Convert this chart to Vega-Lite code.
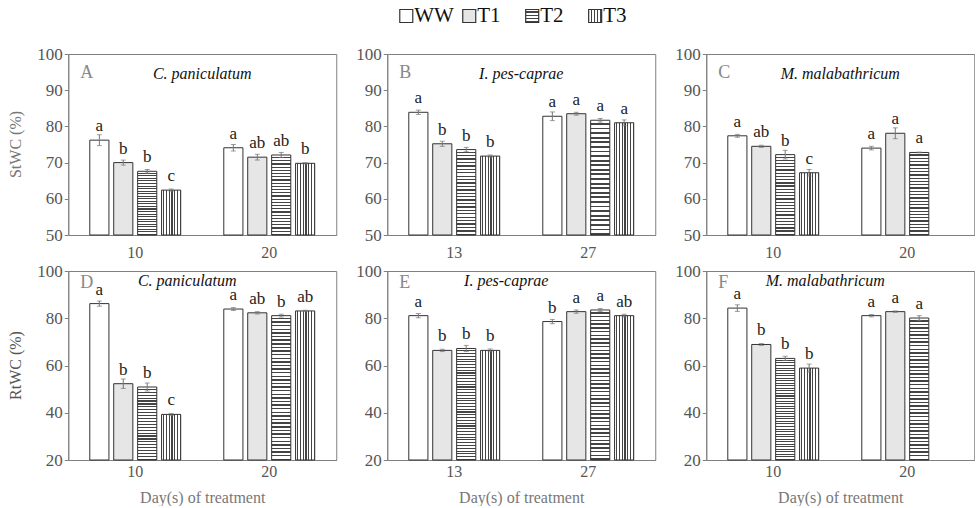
{
 "$schema": "https://vega.github.io/schema/vega-lite/v6.json",
 "padding": {"left": 8, "top": 5, "right": 0, "bottom": 0},
 "background": "white",
 "datasets": {
  "legend": [{"trt":"WW"},{"trt":"T1"},{"trt":"T2"},{"trt":"T3"}],
  "st": [
   {"panel":"A","species":"C. paniculatum","measure":"StWC (%)","day":"10","trt":"WW","value":76.2,"err":1.5,"letter":"a"},
   {"panel":"A","species":"C. paniculatum","measure":"StWC (%)","day":"10","trt":"T1","value":70.0,"err":0.7,"letter":"b"},
   {"panel":"A","species":"C. paniculatum","measure":"StWC (%)","day":"10","trt":"T2","value":67.6,"err":0.5,"letter":"b"},
   {"panel":"A","species":"C. paniculatum","measure":"StWC (%)","day":"10","trt":"T3","value":62.4,"err":0.3,"letter":"c"},
   {"panel":"A","species":"C. paniculatum","measure":"StWC (%)","day":"20","trt":"WW","value":74.1,"err":0.9,"letter":"a"},
   {"panel":"A","species":"C. paniculatum","measure":"StWC (%)","day":"20","trt":"T1","value":71.5,"err":0.8,"letter":"ab"},
   {"panel":"A","species":"C. paniculatum","measure":"StWC (%)","day":"20","trt":"T2","value":72.1,"err":0.7,"letter":"ab"},
   {"panel":"A","species":"C. paniculatum","measure":"StWC (%)","day":"20","trt":"T3","value":69.8,"err":0.2,"letter":"b"},
   {"panel":"B","species":"I. pes-caprae","measure":"StWC (%)","day":"13","trt":"WW","value":83.9,"err":0.6,"letter":"a"},
   {"panel":"B","species":"I. pes-caprae","measure":"StWC (%)","day":"13","trt":"T1","value":75.2,"err":0.7,"letter":"b"},
   {"panel":"B","species":"I. pes-caprae","measure":"StWC (%)","day":"13","trt":"T2","value":73.6,"err":0.6,"letter":"b"},
   {"panel":"B","species":"I. pes-caprae","measure":"StWC (%)","day":"13","trt":"T3","value":71.8,"err":0.3,"letter":"b"},
   {"panel":"B","species":"I. pes-caprae","measure":"StWC (%)","day":"27","trt":"WW","value":82.8,"err":1.2,"letter":"a"},
   {"panel":"B","species":"I. pes-caprae","measure":"StWC (%)","day":"27","trt":"T1","value":83.5,"err":0.4,"letter":"a"},
   {"panel":"B","species":"I. pes-caprae","measure":"StWC (%)","day":"27","trt":"T2","value":81.7,"err":0.5,"letter":"a"},
   {"panel":"B","species":"I. pes-caprae","measure":"StWC (%)","day":"27","trt":"T3","value":81.0,"err":0.8,"letter":"a"},
   {"panel":"C","species":"M. malabathricum","measure":"StWC (%)","day":"10","trt":"WW","value":77.4,"err":0.4,"letter":"a"},
   {"panel":"C","species":"M. malabathricum","measure":"StWC (%)","day":"10","trt":"T1","value":74.5,"err":0.3,"letter":"ab"},
   {"panel":"C","species":"M. malabathricum","measure":"StWC (%)","day":"10","trt":"T2","value":72.2,"err":1.2,"letter":"b"},
   {"panel":"C","species":"M. malabathricum","measure":"StWC (%)","day":"10","trt":"T3","value":67.2,"err":0.9,"letter":"c"},
   {"panel":"C","species":"M. malabathricum","measure":"StWC (%)","day":"20","trt":"WW","value":74.0,"err":0.5,"letter":"a"},
   {"panel":"C","species":"M. malabathricum","measure":"StWC (%)","day":"20","trt":"T1","value":78.1,"err":1.5,"letter":"a"},
   {"panel":"C","species":"M. malabathricum","measure":"StWC (%)","day":"20","trt":"T2","value":72.8,"err":0.1,"letter":"a"}
  ],
  "rt": [
   {"panel":"D","species":"C. paniculatum","measure":"RtWC (%)","day":"10","trt":"WW","value":86.2,"err":1.1,"letter":"a"},
   {"panel":"D","species":"C. paniculatum","measure":"RtWC (%)","day":"10","trt":"T1","value":52.3,"err":2.0,"letter":"b"},
   {"panel":"D","species":"C. paniculatum","measure":"RtWC (%)","day":"10","trt":"T2","value":50.9,"err":1.7,"letter":"b"},
   {"panel":"D","species":"C. paniculatum","measure":"RtWC (%)","day":"10","trt":"T3","value":39.3,"err":0.4,"letter":"c"},
   {"panel":"D","species":"C. paniculatum","measure":"RtWC (%)","day":"20","trt":"WW","value":83.9,"err":0.6,"letter":"a"},
   {"panel":"D","species":"C. paniculatum","measure":"RtWC (%)","day":"20","trt":"T1","value":82.3,"err":0.5,"letter":"ab"},
   {"panel":"D","species":"C. paniculatum","measure":"RtWC (%)","day":"20","trt":"T2","value":81.1,"err":0.6,"letter":"b"},
   {"panel":"D","species":"C. paniculatum","measure":"RtWC (%)","day":"20","trt":"T3","value":83.1,"err":0.3,"letter":"ab"},
   {"panel":"E","species":"I. pes-caprae","measure":"RtWC (%)","day":"13","trt":"WW","value":81.1,"err":0.9,"letter":"a"},
   {"panel":"E","species":"I. pes-caprae","measure":"RtWC (%)","day":"13","trt":"T1","value":66.4,"err":0.5,"letter":"b"},
   {"panel":"E","species":"I. pes-caprae","measure":"RtWC (%)","day":"13","trt":"T2","value":67.2,"err":1.3,"letter":"b"},
   {"panel":"E","species":"I. pes-caprae","measure":"RtWC (%)","day":"13","trt":"T3","value":66.4,"err":0.6,"letter":"b"},
   {"panel":"E","species":"I. pes-caprae","measure":"RtWC (%)","day":"27","trt":"WW","value":78.6,"err":0.9,"letter":"b"},
   {"panel":"E","species":"I. pes-caprae","measure":"RtWC (%)","day":"27","trt":"T1","value":82.8,"err":0.7,"letter":"a"},
   {"panel":"E","species":"I. pes-caprae","measure":"RtWC (%)","day":"27","trt":"T2","value":83.5,"err":0.6,"letter":"a"},
   {"panel":"E","species":"I. pes-caprae","measure":"RtWC (%)","day":"27","trt":"T3","value":81.1,"err":0.6,"letter":"ab"},
   {"panel":"F","species":"M. malabathricum","measure":"RtWC (%)","day":"10","trt":"WW","value":84.3,"err":1.4,"letter":"a"},
   {"panel":"F","species":"M. malabathricum","measure":"RtWC (%)","day":"10","trt":"T1","value":68.9,"err":0.4,"letter":"b"},
   {"panel":"F","species":"M. malabathricum","measure":"RtWC (%)","day":"10","trt":"T2","value":63.0,"err":0.9,"letter":"b"},
   {"panel":"F","species":"M. malabathricum","measure":"RtWC (%)","day":"10","trt":"T3","value":58.9,"err":1.7,"letter":"b"},
   {"panel":"F","species":"M. malabathricum","measure":"RtWC (%)","day":"20","trt":"WW","value":81.1,"err":0.5,"letter":"a"},
   {"panel":"F","species":"M. malabathricum","measure":"RtWC (%)","day":"20","trt":"T1","value":82.8,"err":0.3,"letter":"a"},
   {"panel":"F","species":"M. malabathricum","measure":"RtWC (%)","day":"20","trt":"T2","value":80.1,"err":1.0,"letter":"a"}
  ]
 },
 "spacing": 18,
 "center": true,
 "vconcat": [
  {
   "data": {"name": "legend"},
   "width": 340, "height": 20,
   "view": {"stroke": null},
   "encoding": {"x": {"field": "trt", "type": "nominal", "sort": ["WW","T1","T2","T3"], "axis": null, "bandPosition": 0.1, "scale": {"type": "band", "paddingInner": 0, "paddingOuter": 0.7, "align": 0.55}}},
   "layer": [
    {"mark": {"type": "point", "shape": "square", "filled": true, "size": 169, "stroke": "#333", "strokeWidth": 1.2, "opacity": 1},
     "encoding": {"fill": {"condition": [
      {"test": "datum.trt==='T1'", "value": "#e6e6e6"},
      {"test": "datum.trt==='T2'", "value": {"gradient": "linear", "x1": 0, "y1": 0, "x2": 0, "y2": 1, "stops": [
        {"offset":0,"color":"#fff"},{"offset":0.15,"color":"#fff"},{"offset":0.15,"color":"#444"},{"offset":0.25,"color":"#444"},
        {"offset":0.25,"color":"#fff"},{"offset":0.4,"color":"#fff"},{"offset":0.4,"color":"#444"},{"offset":0.5,"color":"#444"},
        {"offset":0.5,"color":"#fff"},{"offset":0.65,"color":"#fff"},{"offset":0.65,"color":"#444"},{"offset":0.75,"color":"#444"},
        {"offset":0.75,"color":"#fff"},{"offset":0.9,"color":"#fff"},{"offset":0.9,"color":"#444"},{"offset":1,"color":"#444"}]}},
      {"test": "datum.trt==='T3'", "value": {"gradient": "linear", "x1": 0, "y1": 0, "x2": 1, "y2": 0, "stops": [
        {"offset":0,"color":"#fff"},{"offset":0.15,"color":"#fff"},{"offset":0.15,"color":"#444"},{"offset":0.25,"color":"#444"},
        {"offset":0.25,"color":"#fff"},{"offset":0.4,"color":"#fff"},{"offset":0.4,"color":"#444"},{"offset":0.5,"color":"#444"},
        {"offset":0.5,"color":"#fff"},{"offset":0.65,"color":"#fff"},{"offset":0.65,"color":"#444"},{"offset":0.75,"color":"#444"},
        {"offset":0.75,"color":"#fff"},{"offset":0.9,"color":"#fff"},{"offset":0.9,"color":"#444"},{"offset":1,"color":"#444"}]}}
     ], "value": "#fff"}}},
    {"mark": {"type": "text", "align": "left", "baseline": "middle", "dx": 8, "fontSize": 21, "font": "Liberation Serif", "color": "#111"},
     "encoding": {"text": {"field": "trt"}}}
   ]
  },
  {
   "spacing": 0,
   "vconcat": [
    {
     "data": {"name": "st"},
     "facet": {
      "row": {"field": "measure", "type": "nominal", "header": {"title": null, "labelAngle": -90, "labelOrient": "left", "labelFontSize": 16, "labelFont": "Liberation Serif", "labelColor": "#777", "labelPadding": 4}},
      "column": {"field": "panel", "type": "nominal", "header": {"labels": false, "title": null}}
     },
     "spacing": {"column": 18},
     "resolve": {"scale": {"x": "independent", "xOffset": "independent"}, "axis": {"x": "independent", "y": "independent"}},
     "spec": {
      "width": 268, "height": 181,
      "encoding": {
       "x": {"field": "day", "type": "nominal", "title": null, "scale": {"paddingInner": 0, "paddingOuter": 0}, "axis": {"labelPadding": 9, "labelFont": "Liberation Serif"}},
       "y": {"field": "value", "type": "quantitative", "title": null, "scale": {"domain": [50,100], "nice": false, "zero": false}, "axis": {"values": [50,60,70,80,90,100], "labelFont": "Liberation Serif"}}
      },
      "layer": [
       {"mark": {"type": "bar", "stroke": "#333", "strokeWidth": 1},
        "encoding": {
         "xOffset": {"field": "trt", "type": "nominal", "scale": {"domain": ["WW","T1","T2","T3"], "paddingInner": 0.2, "paddingOuter": 0.9}},
         "y2": {"datum": 50},
         "fill": {"condition": [
          {"test": "datum.trt==='T1'", "value": "#e6e6e6"},
          {"test": "datum.trt==='T2'", "value": {"gradient": "linear", "x1": 0, "y1": 0, "x2": 0, "y2": 1, "stops": [
           {"offset":0,"color":"#fff"},{"offset":0.024,"color":"#fff"},{"offset":0.024,"color":"#444"},{"offset":0.04,"color":"#444"},
           {"offset":0.04,"color":"#fff"},{"offset":0.064,"color":"#fff"},{"offset":0.064,"color":"#444"},{"offset":0.08,"color":"#444"},
           {"offset":0.08,"color":"#fff"},{"offset":0.104,"color":"#fff"},{"offset":0.104,"color":"#444"},{"offset":0.12,"color":"#444"},
           {"offset":0.12,"color":"#fff"},{"offset":0.144,"color":"#fff"},{"offset":0.144,"color":"#444"},{"offset":0.16,"color":"#444"},
           {"offset":0.16,"color":"#fff"},{"offset":0.184,"color":"#fff"},{"offset":0.184,"color":"#444"},{"offset":0.2,"color":"#444"},
           {"offset":0.2,"color":"#fff"},{"offset":0.224,"color":"#fff"},{"offset":0.224,"color":"#444"},{"offset":0.24,"color":"#444"},
           {"offset":0.24,"color":"#fff"},{"offset":0.264,"color":"#fff"},{"offset":0.264,"color":"#444"},{"offset":0.28,"color":"#444"},
           {"offset":0.28,"color":"#fff"},{"offset":0.304,"color":"#fff"},{"offset":0.304,"color":"#444"},{"offset":0.32,"color":"#444"},
           {"offset":0.32,"color":"#fff"},{"offset":0.344,"color":"#fff"},{"offset":0.344,"color":"#444"},{"offset":0.36,"color":"#444"},
           {"offset":0.36,"color":"#fff"},{"offset":0.384,"color":"#fff"},{"offset":0.384,"color":"#444"},{"offset":0.4,"color":"#444"},
           {"offset":0.4,"color":"#fff"},{"offset":0.424,"color":"#fff"},{"offset":0.424,"color":"#444"},{"offset":0.44,"color":"#444"},
           {"offset":0.44,"color":"#fff"},{"offset":0.464,"color":"#fff"},{"offset":0.464,"color":"#444"},{"offset":0.48,"color":"#444"},
           {"offset":0.48,"color":"#fff"},{"offset":0.504,"color":"#fff"},{"offset":0.504,"color":"#444"},{"offset":0.52,"color":"#444"},
           {"offset":0.52,"color":"#fff"},{"offset":0.544,"color":"#fff"},{"offset":0.544,"color":"#444"},{"offset":0.56,"color":"#444"},
           {"offset":0.56,"color":"#fff"},{"offset":0.584,"color":"#fff"},{"offset":0.584,"color":"#444"},{"offset":0.6,"color":"#444"},
           {"offset":0.6,"color":"#fff"},{"offset":0.624,"color":"#fff"},{"offset":0.624,"color":"#444"},{"offset":0.64,"color":"#444"},
           {"offset":0.64,"color":"#fff"},{"offset":0.664,"color":"#fff"},{"offset":0.664,"color":"#444"},{"offset":0.68,"color":"#444"},
           {"offset":0.68,"color":"#fff"},{"offset":0.704,"color":"#fff"},{"offset":0.704,"color":"#444"},{"offset":0.72,"color":"#444"},
           {"offset":0.72,"color":"#fff"},{"offset":0.744,"color":"#fff"},{"offset":0.744,"color":"#444"},{"offset":0.76,"color":"#444"},
           {"offset":0.76,"color":"#fff"},{"offset":0.784,"color":"#fff"},{"offset":0.784,"color":"#444"},{"offset":0.8,"color":"#444"},
           {"offset":0.8,"color":"#fff"},{"offset":0.824,"color":"#fff"},{"offset":0.824,"color":"#444"},{"offset":0.84,"color":"#444"},
           {"offset":0.84,"color":"#fff"},{"offset":0.864,"color":"#fff"},{"offset":0.864,"color":"#444"},{"offset":0.88,"color":"#444"},
           {"offset":0.88,"color":"#fff"},{"offset":0.904,"color":"#fff"},{"offset":0.904,"color":"#444"},{"offset":0.92,"color":"#444"},
           {"offset":0.92,"color":"#fff"},{"offset":0.944,"color":"#fff"},{"offset":0.944,"color":"#444"},{"offset":0.96,"color":"#444"},
           {"offset":0.96,"color":"#fff"},{"offset":0.984,"color":"#fff"},{"offset":0.984,"color":"#444"},{"offset":1,"color":"#444"}]}},
          {"test": "datum.trt==='T3'", "value": {"gradient": "linear", "x1": 0, "y1": 0, "x2": 1, "y2": 0, "stops": [
           {"offset":0,"color":"#fff"},{"offset":0.0857,"color":"#fff"},{"offset":0.0857,"color":"#444"},{"offset":0.1429,"color":"#444"},
           {"offset":0.1429,"color":"#fff"},{"offset":0.2286,"color":"#fff"},{"offset":0.2286,"color":"#444"},{"offset":0.2857,"color":"#444"},
           {"offset":0.2857,"color":"#fff"},{"offset":0.3714,"color":"#fff"},{"offset":0.3714,"color":"#444"},{"offset":0.4286,"color":"#444"},
           {"offset":0.4286,"color":"#fff"},{"offset":0.5143,"color":"#fff"},{"offset":0.5143,"color":"#444"},{"offset":0.5714,"color":"#444"},
           {"offset":0.5714,"color":"#fff"},{"offset":0.6571,"color":"#fff"},{"offset":0.6571,"color":"#444"},{"offset":0.7143,"color":"#444"},
           {"offset":0.7143,"color":"#fff"},{"offset":0.8,"color":"#fff"},{"offset":0.8,"color":"#444"},{"offset":0.8571,"color":"#444"},
           {"offset":0.8571,"color":"#fff"},{"offset":0.9429,"color":"#fff"},{"offset":0.9429,"color":"#444"},{"offset":1,"color":"#444"}]}}
         ], "value": "#fff"}
        }},
       {"mark": {"type": "errorbar", "ticks": {"size": 5}, "color": "#777", "thickness": 1},
        "encoding": {
         "xOffset": {"field": "trt", "type": "nominal", "scale": {"domain": ["WW","T1","T2","T3"], "paddingInner": 0.2, "paddingOuter": 0.9}},
         "yError": {"field": "err"}
        }},
       {"mark": {"type": "text", "dy": -9, "baseline": "alphabetic", "fontSize": 17, "font": "Liberation Serif", "color": "#222"},
        "encoding": {
         "xOffset": {"field": "trt", "type": "nominal", "scale": {"domain": ["WW","T1","T2","T3"], "paddingInner": 0.2, "paddingOuter": 0.9}},
         "text": {"field": "letter"}
        }},
       {"transform": [{"filter": "datum.trt==='WW' && (datum.day==='10' || datum.day==='13')"}],
        "mark": {"type": "text", "align": "left", "baseline": "middle", "dx": 12, "fontSize": 18, "font": "Liberation Serif", "color": "#888"},
        "encoding": {"x": {"field": "day", "type": "nominal", "bandPosition": 0, "title": null}, "y": {"datum": 94.8, "title": null}, "text": {"field": "panel"}}},
       {"transform": [{"filter": "datum.trt==='WW' && (datum.day==='20' || datum.day==='27')"}],
        "mark": {"type": "text", "align": "center", "baseline": "middle", "fontSize": 16, "font": "Liberation Serif", "fontStyle": "italic", "color": "#111"},
        "encoding": {"x": {"field": "day", "type": "nominal", "bandPosition": 0, "title": null}, "y": {"datum": 94.5, "title": null}, "text": {"field": "species"}}}
      ]
     }
    },
    {
     "data": {"name": "rt"},
     "facet": {
      "row": {"field": "measure", "type": "nominal", "header": {"title": null, "labelAngle": -90, "labelOrient": "left", "labelFontSize": 16, "labelFont": "Liberation Serif", "labelColor": "#555", "labelPadding": 4}},
      "column": {"field": "panel", "type": "nominal", "header": {"labels": false, "title": null}}
     },
     "spacing": {"column": 18},
     "resolve": {"scale": {"x": "independent", "xOffset": "independent"}, "axis": {"x": "independent", "y": "independent"}},
     "spec": {
      "width": 268, "height": 189,
      "encoding": {
       "x": {"field": "day", "type": "nominal", "title": "Day(s) of treatment", "scale": {"paddingInner": 0, "paddingOuter": 0}, "axis": {"labelPadding": 3, "titlePadding": 10, "labelFont": "Liberation Serif", "titleFont": "Liberation Serif"}},
       "y": {"field": "value", "type": "quantitative", "title": null, "scale": {"domain": [20,100], "nice": false, "zero": false}, "axis": {"values": [20,40,60,80,100], "labelFont": "Liberation Serif"}}
      },
      "layer": [
       {"mark": {"type": "bar", "stroke": "#333", "strokeWidth": 1},
        "encoding": {
         "xOffset": {"field": "trt", "type": "nominal", "scale": {"domain": ["WW","T1","T2","T3"], "paddingInner": 0.2, "paddingOuter": 0.9}},
         "y2": {"datum": 20},
         "fill": {"condition": [
          {"test": "datum.trt==='T1'", "value": "#e6e6e6"},
          {"test": "datum.trt==='T2' && datum.value < 60", "value": {"gradient": "linear", "x1": 0, "y1": 0, "x2": 0, "y2": 1, "stops": [
           {"offset":0,"color":"#fff"},{"offset":0.024,"color":"#fff"},{"offset":0.024,"color":"#444"},{"offset":0.04,"color":"#444"},
           {"offset":0.04,"color":"#fff"},{"offset":0.064,"color":"#fff"},{"offset":0.064,"color":"#444"},{"offset":0.08,"color":"#444"},
           {"offset":0.08,"color":"#fff"},{"offset":0.104,"color":"#fff"},{"offset":0.104,"color":"#444"},{"offset":0.12,"color":"#444"},
           {"offset":0.12,"color":"#fff"},{"offset":0.144,"color":"#fff"},{"offset":0.144,"color":"#444"},{"offset":0.16,"color":"#444"},
           {"offset":0.16,"color":"#fff"},{"offset":0.184,"color":"#fff"},{"offset":0.184,"color":"#444"},{"offset":0.2,"color":"#444"},
           {"offset":0.2,"color":"#fff"},{"offset":0.224,"color":"#fff"},{"offset":0.224,"color":"#444"},{"offset":0.24,"color":"#444"},
           {"offset":0.24,"color":"#fff"},{"offset":0.264,"color":"#fff"},{"offset":0.264,"color":"#444"},{"offset":0.28,"color":"#444"},
           {"offset":0.28,"color":"#fff"},{"offset":0.304,"color":"#fff"},{"offset":0.304,"color":"#444"},{"offset":0.32,"color":"#444"},
           {"offset":0.32,"color":"#fff"},{"offset":0.344,"color":"#fff"},{"offset":0.344,"color":"#444"},{"offset":0.36,"color":"#444"},
           {"offset":0.36,"color":"#fff"},{"offset":0.384,"color":"#fff"},{"offset":0.384,"color":"#444"},{"offset":0.4,"color":"#444"},
           {"offset":0.4,"color":"#fff"},{"offset":0.424,"color":"#fff"},{"offset":0.424,"color":"#444"},{"offset":0.44,"color":"#444"},
           {"offset":0.44,"color":"#fff"},{"offset":0.464,"color":"#fff"},{"offset":0.464,"color":"#444"},{"offset":0.48,"color":"#444"},
           {"offset":0.48,"color":"#fff"},{"offset":0.504,"color":"#fff"},{"offset":0.504,"color":"#444"},{"offset":0.52,"color":"#444"},
           {"offset":0.52,"color":"#fff"},{"offset":0.544,"color":"#fff"},{"offset":0.544,"color":"#444"},{"offset":0.56,"color":"#444"},
           {"offset":0.56,"color":"#fff"},{"offset":0.584,"color":"#fff"},{"offset":0.584,"color":"#444"},{"offset":0.6,"color":"#444"},
           {"offset":0.6,"color":"#fff"},{"offset":0.624,"color":"#fff"},{"offset":0.624,"color":"#444"},{"offset":0.64,"color":"#444"},
           {"offset":0.64,"color":"#fff"},{"offset":0.664,"color":"#fff"},{"offset":0.664,"color":"#444"},{"offset":0.68,"color":"#444"},
           {"offset":0.68,"color":"#fff"},{"offset":0.704,"color":"#fff"},{"offset":0.704,"color":"#444"},{"offset":0.72,"color":"#444"},
           {"offset":0.72,"color":"#fff"},{"offset":0.744,"color":"#fff"},{"offset":0.744,"color":"#444"},{"offset":0.76,"color":"#444"},
           {"offset":0.76,"color":"#fff"},{"offset":0.784,"color":"#fff"},{"offset":0.784,"color":"#444"},{"offset":0.8,"color":"#444"},
           {"offset":0.8,"color":"#fff"},{"offset":0.824,"color":"#fff"},{"offset":0.824,"color":"#444"},{"offset":0.84,"color":"#444"},
           {"offset":0.84,"color":"#fff"},{"offset":0.864,"color":"#fff"},{"offset":0.864,"color":"#444"},{"offset":0.88,"color":"#444"},
           {"offset":0.88,"color":"#fff"},{"offset":0.904,"color":"#fff"},{"offset":0.904,"color":"#444"},{"offset":0.92,"color":"#444"},
           {"offset":0.92,"color":"#fff"},{"offset":0.944,"color":"#fff"},{"offset":0.944,"color":"#444"},{"offset":0.96,"color":"#444"},
           {"offset":0.96,"color":"#fff"},{"offset":0.984,"color":"#fff"},{"offset":0.984,"color":"#444"},{"offset":1,"color":"#444"}]}},
          {"test": "datum.trt==='T2'", "value": {"gradient": "linear", "x1": 0, "y1": 0, "x2": 0, "y2": 1, "stops": [
           {"offset":0,"color":"#fff"},{"offset":0.015,"color":"#fff"},{"offset":0.015,"color":"#444"},{"offset":0.025,"color":"#444"},
           {"offset":0.025,"color":"#fff"},{"offset":0.04,"color":"#fff"},{"offset":0.04,"color":"#444"},{"offset":0.05,"color":"#444"},
           {"offset":0.05,"color":"#fff"},{"offset":0.065,"color":"#fff"},{"offset":0.065,"color":"#444"},{"offset":0.075,"color":"#444"},
           {"offset":0.075,"color":"#fff"},{"offset":0.09,"color":"#fff"},{"offset":0.09,"color":"#444"},{"offset":0.1,"color":"#444"},
           {"offset":0.1,"color":"#fff"},{"offset":0.115,"color":"#fff"},{"offset":0.115,"color":"#444"},{"offset":0.125,"color":"#444"},
           {"offset":0.125,"color":"#fff"},{"offset":0.14,"color":"#fff"},{"offset":0.14,"color":"#444"},{"offset":0.15,"color":"#444"},
           {"offset":0.15,"color":"#fff"},{"offset":0.165,"color":"#fff"},{"offset":0.165,"color":"#444"},{"offset":0.175,"color":"#444"},
           {"offset":0.175,"color":"#fff"},{"offset":0.19,"color":"#fff"},{"offset":0.19,"color":"#444"},{"offset":0.2,"color":"#444"},
           {"offset":0.2,"color":"#fff"},{"offset":0.215,"color":"#fff"},{"offset":0.215,"color":"#444"},{"offset":0.225,"color":"#444"},
           {"offset":0.225,"color":"#fff"},{"offset":0.24,"color":"#fff"},{"offset":0.24,"color":"#444"},{"offset":0.25,"color":"#444"},
           {"offset":0.25,"color":"#fff"},{"offset":0.265,"color":"#fff"},{"offset":0.265,"color":"#444"},{"offset":0.275,"color":"#444"},
           {"offset":0.275,"color":"#fff"},{"offset":0.29,"color":"#fff"},{"offset":0.29,"color":"#444"},{"offset":0.3,"color":"#444"},
           {"offset":0.3,"color":"#fff"},{"offset":0.315,"color":"#fff"},{"offset":0.315,"color":"#444"},{"offset":0.325,"color":"#444"},
           {"offset":0.325,"color":"#fff"},{"offset":0.34,"color":"#fff"},{"offset":0.34,"color":"#444"},{"offset":0.35,"color":"#444"},
           {"offset":0.35,"color":"#fff"},{"offset":0.365,"color":"#fff"},{"offset":0.365,"color":"#444"},{"offset":0.375,"color":"#444"},
           {"offset":0.375,"color":"#fff"},{"offset":0.39,"color":"#fff"},{"offset":0.39,"color":"#444"},{"offset":0.4,"color":"#444"},
           {"offset":0.4,"color":"#fff"},{"offset":0.415,"color":"#fff"},{"offset":0.415,"color":"#444"},{"offset":0.425,"color":"#444"},
           {"offset":0.425,"color":"#fff"},{"offset":0.44,"color":"#fff"},{"offset":0.44,"color":"#444"},{"offset":0.45,"color":"#444"},
           {"offset":0.45,"color":"#fff"},{"offset":0.465,"color":"#fff"},{"offset":0.465,"color":"#444"},{"offset":0.475,"color":"#444"},
           {"offset":0.475,"color":"#fff"},{"offset":0.49,"color":"#fff"},{"offset":0.49,"color":"#444"},{"offset":0.5,"color":"#444"},
           {"offset":0.5,"color":"#fff"},{"offset":0.515,"color":"#fff"},{"offset":0.515,"color":"#444"},{"offset":0.525,"color":"#444"},
           {"offset":0.525,"color":"#fff"},{"offset":0.54,"color":"#fff"},{"offset":0.54,"color":"#444"},{"offset":0.55,"color":"#444"},
           {"offset":0.55,"color":"#fff"},{"offset":0.565,"color":"#fff"},{"offset":0.565,"color":"#444"},{"offset":0.575,"color":"#444"},
           {"offset":0.575,"color":"#fff"},{"offset":0.59,"color":"#fff"},{"offset":0.59,"color":"#444"},{"offset":0.6,"color":"#444"},
           {"offset":0.6,"color":"#fff"},{"offset":0.615,"color":"#fff"},{"offset":0.615,"color":"#444"},{"offset":0.625,"color":"#444"},
           {"offset":0.625,"color":"#fff"},{"offset":0.64,"color":"#fff"},{"offset":0.64,"color":"#444"},{"offset":0.65,"color":"#444"},
           {"offset":0.65,"color":"#fff"},{"offset":0.665,"color":"#fff"},{"offset":0.665,"color":"#444"},{"offset":0.675,"color":"#444"},
           {"offset":0.675,"color":"#fff"},{"offset":0.69,"color":"#fff"},{"offset":0.69,"color":"#444"},{"offset":0.7,"color":"#444"},
           {"offset":0.7,"color":"#fff"},{"offset":0.715,"color":"#fff"},{"offset":0.715,"color":"#444"},{"offset":0.725,"color":"#444"},
           {"offset":0.725,"color":"#fff"},{"offset":0.74,"color":"#fff"},{"offset":0.74,"color":"#444"},{"offset":0.75,"color":"#444"},
           {"offset":0.75,"color":"#fff"},{"offset":0.765,"color":"#fff"},{"offset":0.765,"color":"#444"},{"offset":0.775,"color":"#444"},
           {"offset":0.775,"color":"#fff"},{"offset":0.79,"color":"#fff"},{"offset":0.79,"color":"#444"},{"offset":0.8,"color":"#444"},
           {"offset":0.8,"color":"#fff"},{"offset":0.815,"color":"#fff"},{"offset":0.815,"color":"#444"},{"offset":0.825,"color":"#444"},
           {"offset":0.825,"color":"#fff"},{"offset":0.84,"color":"#fff"},{"offset":0.84,"color":"#444"},{"offset":0.85,"color":"#444"},
           {"offset":0.85,"color":"#fff"},{"offset":0.865,"color":"#fff"},{"offset":0.865,"color":"#444"},{"offset":0.875,"color":"#444"},
           {"offset":0.875,"color":"#fff"},{"offset":0.89,"color":"#fff"},{"offset":0.89,"color":"#444"},{"offset":0.9,"color":"#444"},
           {"offset":0.9,"color":"#fff"},{"offset":0.915,"color":"#fff"},{"offset":0.915,"color":"#444"},{"offset":0.925,"color":"#444"},
           {"offset":0.925,"color":"#fff"},{"offset":0.94,"color":"#fff"},{"offset":0.94,"color":"#444"},{"offset":0.95,"color":"#444"},
           {"offset":0.95,"color":"#fff"},{"offset":0.965,"color":"#fff"},{"offset":0.965,"color":"#444"},{"offset":0.975,"color":"#444"},
           {"offset":0.975,"color":"#fff"},{"offset":0.99,"color":"#fff"},{"offset":0.99,"color":"#444"},{"offset":1,"color":"#444"}]}},
          {"test": "datum.trt==='T3'", "value": {"gradient": "linear", "x1": 0, "y1": 0, "x2": 1, "y2": 0, "stops": [
           {"offset":0,"color":"#fff"},{"offset":0.0857,"color":"#fff"},{"offset":0.0857,"color":"#444"},{"offset":0.1429,"color":"#444"},
           {"offset":0.1429,"color":"#fff"},{"offset":0.2286,"color":"#fff"},{"offset":0.2286,"color":"#444"},{"offset":0.2857,"color":"#444"},
           {"offset":0.2857,"color":"#fff"},{"offset":0.3714,"color":"#fff"},{"offset":0.3714,"color":"#444"},{"offset":0.4286,"color":"#444"},
           {"offset":0.4286,"color":"#fff"},{"offset":0.5143,"color":"#fff"},{"offset":0.5143,"color":"#444"},{"offset":0.5714,"color":"#444"},
           {"offset":0.5714,"color":"#fff"},{"offset":0.6571,"color":"#fff"},{"offset":0.6571,"color":"#444"},{"offset":0.7143,"color":"#444"},
           {"offset":0.7143,"color":"#fff"},{"offset":0.8,"color":"#fff"},{"offset":0.8,"color":"#444"},{"offset":0.8571,"color":"#444"},
           {"offset":0.8571,"color":"#fff"},{"offset":0.9429,"color":"#fff"},{"offset":0.9429,"color":"#444"},{"offset":1,"color":"#444"}]}}
         ], "value": "#fff"}
        }},
       {"mark": {"type": "errorbar", "ticks": {"size": 5}, "color": "#777", "thickness": 1},
        "encoding": {
         "xOffset": {"field": "trt", "type": "nominal", "scale": {"domain": ["WW","T1","T2","T3"], "paddingInner": 0.2, "paddingOuter": 0.9}},
         "yError": {"field": "err"}
        }},
       {"mark": {"type": "text", "dy": -9, "baseline": "alphabetic", "fontSize": 17, "font": "Liberation Serif", "color": "#222"},
        "encoding": {
         "xOffset": {"field": "trt", "type": "nominal", "scale": {"domain": ["WW","T1","T2","T3"], "paddingInner": 0.2, "paddingOuter": 0.9}},
         "text": {"field": "letter"}
        }},
       {"transform": [{"filter": "datum.trt==='WW' && (datum.day==='10' || datum.day==='13')"}],
        "mark": {"type": "text", "align": "left", "baseline": "middle", "dx": 12, "fontSize": 18, "font": "Liberation Serif", "color": "#888"},
        "encoding": {"x": {"field": "day", "type": "nominal", "bandPosition": 0, "title": "Day(s) of treatment"}, "y": {"datum": 95, "title": null}, "text": {"field": "panel"}}},
       {"transform": [{"filter": "datum.trt==='WW' && (datum.day==='20' || datum.day==='27')"}],
        "mark": {"type": "text", "align": "center", "baseline": "middle", "dx": -15, "fontSize": 16, "font": "Liberation Serif", "fontStyle": "italic", "color": "#111"},
        "encoding": {"x": {"field": "day", "type": "nominal", "bandPosition": 0, "title": "Day(s) of treatment"}, "y": {"datum": 95.6, "title": null}, "text": {"field": "species"}}}
      ]
     }
    }
   ]
  }
 ],
 "config": {
  "font": "Liberation Serif",
  "view": {"stroke": "#808080", "strokeWidth": 1},
  "axis": {"labelFont": "Liberation Serif", "titleFont": "Liberation Serif", "labelColor": "#555", "titleColor": "#777", "titleFontWeight": "normal", "domainColor": "#808080", "tickColor": "#808080", "grid": false},
  "axisX": {"ticks": false, "labelAngle": 0, "labelFontSize": 16, "titleFontSize": 16},
  "axisY": {"tickSize": 4, "labelPadding": 2, "labelFontSize": 17},
  "header": {"labelFont": "Liberation Serif", "titleFont": "Liberation Serif"},
  "text": {"font": "Liberation Serif"},
  "mark": {"font": "Liberation Serif"}
 }
}
